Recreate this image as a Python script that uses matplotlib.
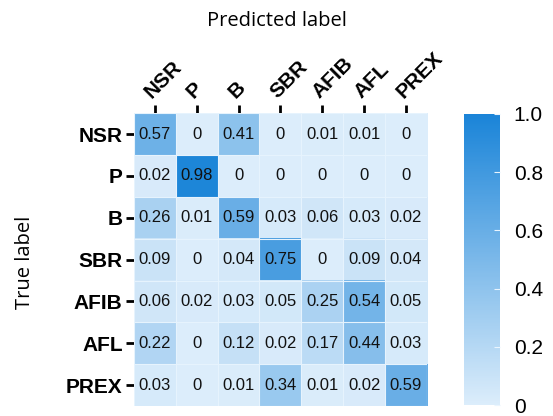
# libraries
import numpy as np
import matplotlib
matplotlib.use('Agg')
import matplotlib.pyplot as plt
from matplotlib.colors import LinearSegmentedColormap

# data
labels = ['NSR', 'P', 'B', 'SBR', 'AFIB', 'AFL', 'PREX']
nsr  = [0.57, 0,    0.41, 0,    0.01, 0.01, 0]
p    = [0.02, 0.98, 0,    0,    0,    0,    0]
b    = [0.26, 0.01, 0.59, 0.03, 0.06, 0.03, 0.02]
sbr  = [0.09, 0,    0.04, 0.75, 0,    0.09, 0.04]
afib = [0.06, 0.02, 0.03, 0.05, 0.25, 0.54, 0.05]
afl  = [0.22, 0,    0.12, 0.02, 0.17, 0.44, 0.03]
prex = [0.03, 0,    0.01, 0.34, 0.01, 0.02, 0.59]
cbar_ticks = [0, 0.2, 0.4, 0.6, 0.8, 1.0]
cbar_labels = ['0', '0.2', '0.4', '0.6', '0.8', '1.0']

cm = np.array([nsr, p, b, sbr, afib, afl, prex])

cmap = LinearSegmentedColormap.from_list('lightblue', ['#dcedfb', '#1a84d8'])

fig = plt.figure(figsize=(5.53, 4.16), dpi=100)
ax = fig.add_axes([0.242, 0.024, 0.530, 0.704])
cax = fig.add_axes([0.839, 0.026, 0.065, 0.700])

im = ax.imshow(cm, cmap=cmap, vmin=0, vmax=1, aspect='auto')

# faint cell borders
for k in range(len(labels) + 1):
    ax.axhline(k - 0.5, color='#e6f3fd', lw=0.8)
    ax.axvline(k - 0.5, color='#e6f3fd', lw=0.8)

for i in range(cm.shape[0]):
    for j in range(cm.shape[1]):
        v = cm[i, j]
        txt = '0' if v == 0 else '%.2f' % v
        ax.text(j, i, txt, ha='center', va='center', fontsize=12,
                family='Liberation Sans', color='#111111')

ax.xaxis.tick_top()
ax.set_xticks(range(len(labels)))
ax.set_yticks(range(len(labels)))
ax.set_xticklabels(labels, rotation=45, ha='left', va='bottom',
                   rotation_mode='anchor', fontsize=15, fontweight='bold',
                   family='Liberation Sans')
ax.set_yticklabels(labels, fontsize=15, fontweight='bold', family='Liberation Sans')
ax.tick_params(axis='both', length=6, width=2, color='black', pad=2)
for s in ax.spines.values():
    s.set_visible(False)

fig.text(0.5, 0.95, 'Predicted label', ha='center', va='center',
         fontsize=14.5, family='Open Sans')
fig.text(0.045, 0.37, 'True label', ha='center', va='center', rotation=90,
         fontsize=14.5, family='Open Sans')

cb = fig.colorbar(im, cax=cax, ticks=cbar_ticks)
cb.outline.set_visible(False)
cb.ax.set_yticklabels(cbar_labels)
cb.ax.tick_params(length=4, width=0.8, color='#eaf5fe', direction='in',
                  labelsize=15, pad=10)
for t in cb.ax.get_yticklabels():
    t.set_family('Liberation Sans')

plt.savefig('out.png', dpi=100)
